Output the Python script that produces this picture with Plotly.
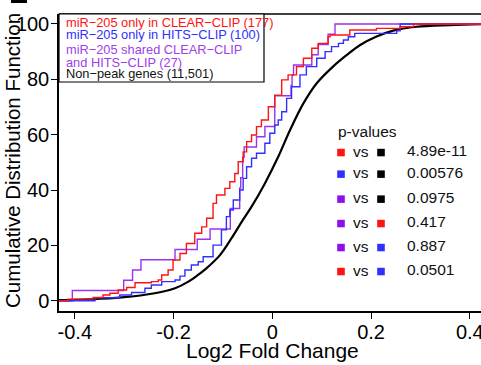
import plotly.graph_objects as go

# ---- data -------------------------------------------------------------
# miR-205 targets found only by CLEAR-CLIP (177 genes): ECDF corner points
red_x = [-0.414, -0.363, -0.343, -0.329, -0.312, -0.295, -0.278, -0.245, -0.231,
         -0.224, -0.211, -0.201, -0.187, -0.174, -0.157, -0.143, -0.133, -0.120,
         -0.113, -0.096, -0.086, -0.076, -0.069, -0.059, -0.052, -0.042, -0.032,
         -0.022, -0.008, 0.005, 0.019, 0.032, 0.049, 0.063, 0.080, 0.093, 0.113,
         0.117, 0.157, 0.211, 0.259, 0.286]
red_y = [0.6, 1.2, 2.1, 2.7, 3.9, 4.8, 6.5, 6.9, 7.5,
         9.3, 11.1, 14.7, 17.1, 20.7, 24.4, 26.7, 29.8, 35.2,
         38.2, 40.6, 43.0, 46.0, 50.2, 53.8, 57.5, 59.9, 62.9,
         65.3, 70.1, 74.3, 79.8, 81.6, 84.6, 87.6, 91.2, 93.0, 95.4,
         96.0, 97.8, 98.4, 99.0, 100.0]

# miR-205 targets found only by HITS-CLIP (100 genes)
blue_x = [-0.359, -0.309, -0.285, -0.258, -0.245, -0.224, -0.197, -0.187, -0.177,
          -0.164, -0.150, -0.140, -0.120, -0.103, -0.093, -0.086, -0.079, -0.066,
          -0.059, -0.052, -0.042, -0.032, -0.015, -0.005, 0.005, 0.012, 0.019,
          0.029, 0.039, 0.056, 0.069, 0.090, 0.107, 0.120, 0.134, 0.144, 0.154,
          0.167, 0.252, 0.259]
blue_y = [1.1, 2.1, 3.0, 4.5, 5.7, 6.9, 7.5, 8.9, 11.1,
          12.9, 14.1, 15.9, 20.1, 25.6, 30.4, 32.8, 36.4, 40.0,
          44.2, 48.4, 51.5, 53.3, 56.9, 60.5, 63.5, 65.3, 68.3,
          73.1, 77.3, 81.6, 84.6, 87.6, 90.0, 91.8, 93.0, 94.2, 95.4,
          96.6, 97.5, 100.0]

# shared CLEAR-CLIP and HITS-CLIP targets (27 genes): fold changes
purple_fc = [-0.405, -0.301, -0.283, -0.266, -0.197, -0.152, -0.126, -0.085, -0.085,
             -0.066, -0.066, -0.064, -0.060, -0.060, -0.057, -0.032, -0.015, 0.005,
             0.005, 0.005, 0.038, 0.040, 0.043, 0.080, 0.093, 0.113, 0.127]

# non-peak genes (11,501): smooth CDF
black_x = [-0.432, -0.373, -0.305, -0.238, -0.197, -0.170, -0.150, -0.133, -0.106,
           -0.0825, -0.062, -0.042, -0.015, 0.012, 0.036, 0.063, 0.090, 0.123,
           0.151, 0.178, 0.210, 0.245, 0.292, 0.360, 0.423]
black_y = [0.2, 0.5, 1.2, 2.7, 4.5, 6.9, 9.4, 11.8, 16.5,
           22.6, 28.5, 34.0, 42.4, 52.0, 61.7, 71.3, 78.6, 84.6,
           88.8, 92.4, 95.4, 97.6, 99.0, 99.6, 99.9]

legend_labels = ["miR\u2212205 only in CLEAR\u2212CLIP (177)",
                 "miR\u2212205 only in HITS\u2212CLIP (100)",
                 "miR\u2212205 shared CLEAR\u2212CLIP",
                 "and HITS\u2212CLIP (27)",
                 "Non\u2212peak genes (11,501)"]

pv_pairs = [("red", "black"), ("blue", "black"), ("purple", "black"),
            ("purple", "red"), ("purple", "blue"), ("red", "blue")]
pv_values = ["4.89e-11", "0.00576", "0.0975", "0.417", "0.887", "0.0501"]

x_ticks = [-0.4, -0.2, 0, 0.2, 0.4]
x_ticktext = ["-0.4", "-0.2", "0", "0.2", "0.4"]
y_ticks = [0, 20, 40, 60, 80, 100]

# ---- style ------------------------------------------------------------
COL = {"red": "#ff1212", "blue": "#3030ff", "purple": "#8c10ee", "black": "#000000"}
LINE_PURPLE = "#9a33ee"
TEXT_PURPLE = "#a040e8"
FONT = "Liberation Sans, Arial, sans-serif"

W, H = 481, 365
L, R, T, B = 59, 0, 14, 54
PW, PH = W - L - R, H - T - B
X_RANGE = [-0.432, 0.4227]
Y_RANGE = [-3.7, 103.6]


def fx(px):
    return (px - L) / PW


def fy(py):
    return 1 - (py - T) / PH


fig = go.Figure()

# black CDF
fig.add_trace(go.Scatter(x=black_x, y=black_y, mode="lines", line_shape="spline",
                         line=dict(color="black", width=2.2), hoverinfo="skip"))

# shared (purple) ECDF built from its fold changes
n_p = len(purple_fc)
p_x = [X_RANGE[0]] + purple_fc + [X_RANGE[1]]
p_y = [0] + [100 * (i + 1) / n_p for i in range(n_p)] + [100]
fig.add_trace(go.Scatter(x=p_x, y=p_y, mode="lines", line_shape="hv",
                         line=dict(color=LINE_PURPLE, width=1.4), hoverinfo="skip"))

# blue and red ECDFs
fig.add_trace(go.Scatter(x=[X_RANGE[0]] + blue_x + [X_RANGE[1]],
                         y=[0] + blue_y + [100], mode="lines", line_shape="hv",
                         line=dict(color=COL["blue"], width=1.4), hoverinfo="skip"))
fig.add_trace(go.Scatter(x=[X_RANGE[0]] + red_x + [X_RANGE[1]],
                         y=[0] + red_y + [100], mode="lines", line_shape="hv",
                         line=dict(color=COL["red"], width=1.4), hoverinfo="skip"))

shapes = []
annotations = []

# top frame line
shapes.append(dict(type="line", xref="paper", yref="paper", x0=0, x1=1, y0=1, y1=1,
                   line=dict(color="black", width=1.5)))
# legend box
shapes.append(dict(type="rect", xref="paper", yref="paper",
                   x0=0, x1=fx(264), y0=fy(82), y1=1,
                   line=dict(color="black", width=1.2), fillcolor="white"))
# stray mark at the top-left corner
shapes.append(dict(type="rect", xref="paper", yref="paper",
                   x0=fx(11), x1=fx(27), y0=fy(3), y1=fy(-2),
                   line=dict(width=0), fillcolor="black"))

leg_colors = [COL["red"], COL["blue"], TEXT_PURPLE, TEXT_PURPLE, "#111111"]
leg_rows = [22.7, 34.0, 49.3, 62.7, 73.8]
for txt, c, py in zip(legend_labels, leg_colors, leg_rows):
    annotations.append(dict(text=txt, xref="paper", yref="paper", x=fx(64), y=fy(py),
                            xanchor="left", yanchor="middle", showarrow=False,
                            font=dict(family=FONT, size=12.8, color=c)))

# p-value table
annotations.append(dict(text="p-values", xref="paper", yref="paper", x=fx(336), y=fy(131),
                        xanchor="left", yanchor="middle", showarrow=False,
                        font=dict(family=FONT, size=15.5, color="#111111")))
pv_rows = [151.7, 173.3, 198.3, 222.7, 246.7, 270.7]
for (a, b), val, py in zip(pv_pairs, pv_values, pv_rows):
    for cx, cname in ((341, a), (381, b)):
        shapes.append(dict(type="rect", xref="paper", yref="paper",
                           x0=fx(cx - 3.8), x1=fx(cx + 3.8),
                           y0=fy(py + 4.6), y1=fy(py - 2.9),
                           line=dict(width=0), fillcolor=COL[cname]))
    annotations.append(dict(text="vs", xref="paper", yref="paper", x=fx(351), y=fy(py - 0.5),
                            xanchor="left", yanchor="middle", showarrow=False,
                            font=dict(family=FONT, size=15.5, color="#111111")))
    annotations.append(dict(text=val, xref="paper", yref="paper", x=fx(405), y=fy(py - 1),
                            xanchor="left", yanchor="middle", showarrow=False,
                            font=dict(family=FONT, size=15.5, color="#111111")))

# axis titles
annotations.append(dict(text="Log2 Fold Change", xref="paper", yref="paper",
                        x=fx(272), y=fy(350), xanchor="center", yanchor="middle",
                        showarrow=False, font=dict(family=FONT, size=21, color="black")))
annotations.append(dict(text="Cumulative Distribution Function", xref="paper", yref="paper",
                        x=fx(12), y=fy(161), xanchor="center", yanchor="middle",
                        textangle=-90, showarrow=False,
                        font=dict(family=FONT, size=20.5, color="black")))

fig.update_layout(
    width=W, height=H,
    margin=dict(l=L, r=R, t=T, b=B, pad=0),
    paper_bgcolor="white", plot_bgcolor="white",
    showlegend=False,
    shapes=shapes, annotations=annotations,
    font=dict(family=FONT, color="black"),
    xaxis=dict(range=X_RANGE, tickvals=x_ticks, ticktext=x_ticktext,
               showgrid=False, zeroline=False, showline=True, linecolor="black",
               linewidth=1.5, ticks="outside", ticklen=6, tickwidth=1.2,
               tickcolor="black", tickfont=dict(size=20, family=FONT),
               ticklabeloverflow="allow", ticklabelstandoff=-4,
               automargin=False),
    yaxis=dict(range=Y_RANGE, tickvals=y_ticks,
               showgrid=False, zeroline=False, showline=True, linecolor="black",
               linewidth=1.5, ticks="outside", ticklen=6, tickwidth=1.2,
               tickcolor="black", tickfont=dict(size=20, family=FONT),
               ticklabelstandoff=-2, automargin=False),
)

fig.write_html("out.html")
